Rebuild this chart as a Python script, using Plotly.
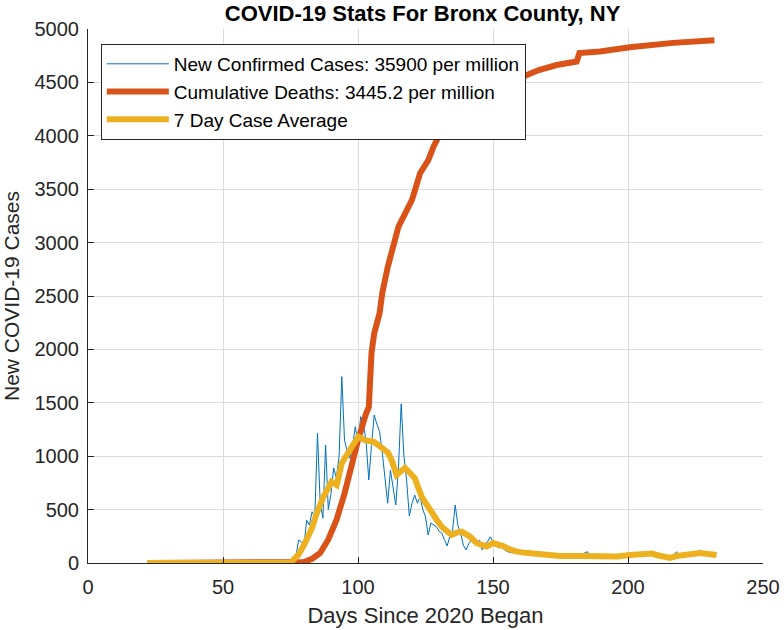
import plotly.graph_objects as go

# New confirmed cases (daily, thin blue)
case_days = [22, 76, 77, 78, 79, 80, 81, 82, 83, 84, 85, 86, 87, 88, 89, 90, 91, 92, 93, 94,
             95, 96, 97, 98, 99, 100, 101, 102, 103, 104, 105, 106, 107, 108, 109, 110, 111,
             112, 113, 114, 115, 116, 117, 118, 119, 120, 121, 122, 123, 124, 125, 126, 127,
             128, 129, 130, 131, 132, 133, 134, 135, 136, 137, 138, 139, 140, 141, 142, 143,
             144, 145, 146, 147, 148, 149, 150, 151, 152, 153, 154, 155, 156, 158, 160, 163,
             166, 170, 174, 178, 182, 185, 186, 190, 194, 198, 202, 206, 208, 211, 214, 216,
             218, 219, 222, 225, 227, 228, 230, 232]
new_cases = [0, 0, 60, 215, 200, 168, 400, 355, 480, 430, 1215, 560, 420, 1105, 500, 650, 890,
             795, 1000, 1745, 1150, 1050, 980, 1100, 1276, 1120, 1370, 1300, 1136, 777, 1100,
             1385, 1300, 1230, 1030, 800, 560, 870, 700, 543, 900, 1490, 1000, 777, 440, 560,
             637, 560, 620, 500, 433, 262, 374, 360, 340, 300, 280, 220, 160, 246, 300, 543,
             350, 280, 168, 122, 180, 215, 190, 160, 215, 122, 180, 200, 246, 200, 170, 140,
             150, 130, 110, 100, 95, 90, 80, 85, 70, 65, 60, 70, 106, 60, 55, 60, 65, 75, 100,
             85, 70, 45, 50, 106, 60, 75, 85, 122, 80, 90, 75]

# Cumulative deaths (thick red)
death_days = [22, 78, 80, 83, 86, 89, 92, 95, 97, 100, 103, 104, 105, 106, 108, 109, 111, 114,
              115, 120, 122, 123, 126, 128, 131.5, 135, 140, 145, 150, 155, 161, 167, 173.6,
              181, 182, 189.6, 200.7, 207, 216.7, 232]
deaths = [0, 0, 10, 40, 94, 220, 400, 650, 870, 1150, 1400, 1460, 1966, 2150, 2340, 2530,
          2770, 3050, 3150, 3400, 3560, 3650, 3770, 3900, 4070, 4150, 4260, 4350, 4420, 4490,
          4553, 4616, 4663, 4695, 4775, 4790, 4830, 4850, 4870, 4895]

# 7 day case average (thick yellow)
avg_days = [22, 75, 76, 78, 80, 81, 83, 84.7, 87.2, 90.2, 92.1, 94, 96.4, 98.3, 100.1, 102.6,
            105.7, 107.5, 109, 111.2, 112.5, 114.3, 115.5, 117.4, 119, 121, 123.6, 125,
            127.3, 129, 131, 134.7, 136.5, 138.4, 140, 141.5, 144, 145.5, 147.6, 150, 152,
            153.8, 156, 158.8, 162, 166, 170, 174.8, 183, 188, 192, 196, 200.7, 204, 207,
            209, 210.6, 213, 215.5, 218, 220, 223, 226.7, 230, 232.8]
avg_cases = [0, 0, 28, 80, 168, 220, 330, 465, 620, 760, 730, 935, 1030, 1090, 1183, 1150,
             1136, 1105, 1080, 1030, 960, 824, 850, 890, 850, 796, 620, 560, 480, 410, 340,
             262, 285, 293, 270, 246, 185, 168, 155, 187, 175, 159, 130, 106, 95, 84, 75, 66,
             66, 62, 56, 62, 75, 85, 96, 88, 75, 55, 47, 65, 75, 82, 94, 85, 75]

x_ticks = [0, 50, 100, 150, 200, 250]
y_ticks = [0, 500, 1000, 1500, 2000, 2500, 3000, 3500, 4000, 4500, 5000]

fig = go.Figure()
fig.add_trace(go.Scatter(x=case_days, y=new_cases, mode="lines",
                         name="New Confirmed Cases: 35900 per million",
                         line=dict(color="#0072BD", width=1)))
fig.add_trace(go.Scatter(x=death_days, y=deaths, mode="lines",
                         name="Cumulative Deaths: 3445.2 per million",
                         line=dict(color="#D95319", width=6)))
fig.add_trace(go.Scatter(x=avg_days, y=avg_cases, mode="lines",
                         name="7 Day Case Average",
                         line=dict(color="#EDB120", width=6)))

axis_style = dict(showgrid=True, gridcolor="#dcdcdc", gridwidth=1, showline=True,
                  linecolor="#262626", linewidth=1, ticks="inside", ticklen=6,
                  tickcolor="#262626", zeroline=False, automargin=False,
                  tickfont=dict(family="Liberation Sans", size=20, color="#262626"))

fig.update_layout(
    width=784, height=630,
    paper_bgcolor="white", plot_bgcolor="white",
    margin=dict(l=88, r=21, t=29, b=67),
    font=dict(family="Liberation Sans", color="#262626"),
    title=dict(text="<b>COVID-19 Stats For Bronx County, NY</b>", x=0.539, xanchor="center",
               yref="container", y=0.979, yanchor="middle",
               font=dict(size=22, color="black")),
    xaxis=dict(range=[0, 250], tickvals=x_ticks, ticklabelstandoff=6,
               title=dict(text="Days Since 2020 Began", font=dict(size=22), standoff=10),
               **axis_style),
    yaxis=dict(range=[0, 5000], tickvals=y_ticks, ticklabelstandoff=4,
               title=dict(text="New COVID-19 Cases", font=dict(size=21), standoff=10),
               **axis_style),
    legend=dict(x=0.019, y=0.972, xanchor="left", yanchor="top",
                bgcolor="white", bordercolor="#262626", borderwidth=1,
                font=dict(family="Liberation Sans", size=19, color="black"),
                tracegroupgap=0, itemwidth=62),
    showlegend=True,
)

# drop the browser's default page margin so the figure sits at the window corner
fig.write_html("out.html", config={"displayModeBar": False},
               post_script="document.body.style.margin='0';")
